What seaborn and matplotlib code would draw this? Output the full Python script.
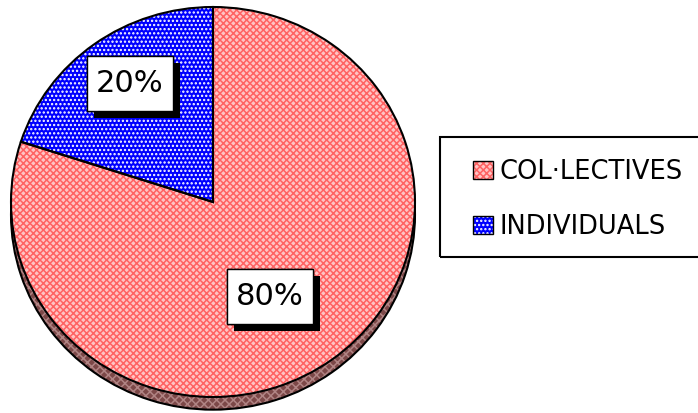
import matplotlib
matplotlib.use("Agg")
import matplotlib.pyplot as plt
import seaborn as sns
import numpy as np
from matplotlib import patheffects as pe
from matplotlib.patches import Patch, Rectangle

categories = ["COL·LECTIVES", "INDIVIDUALS"]
values = [80, 20]
face_colors = ["#ffc4c4", "#0000ff"]
hatch_colors = ["#ff6262", "#ffffff"]
side_colors = ["#7c4848", "#000080"]
hatches = ["xxxxx", "...."]
# label placement along the slice bisector (x factor, y factor)
label_dist = [(0.48, 0.60), (0.70, 0.75)]

sns.set_theme(style="white")
plt.rcParams["font.family"] = ["DejaVu Sans"]
plt.rcParams["hatch.linewidth"] = 1.1

W, H = 698, 413
fig = plt.figure(figsize=(W / 100, H / 100), dpi=100)

# pie face: centre ~ (213, 202) px from top, radii ~202 x 195 px
depth = 0.065
ylo = -1.12
ax = fig.add_axes([11 / W, (H - 7 - (1 - ylo) * 195) / H, 404 / W, (1 - ylo) * 195 / H])

start = 90 + 360 * values[1] / sum(values)

# side / depth of the 3d pie
side, _ = ax.pie(values, startangle=start, center=(0, -depth), colors=side_colors,
                 hatch=["xxxx", ""], wedgeprops=dict(linewidth=0))
for w in side:
    w.set_edgecolor("#b08484")
ax.pie(values, startangle=start, center=(0, -depth),
       wedgeprops=dict(fill=False, edgecolor="black", linewidth=1.5))

# top face
face, _ = ax.pie(values, startangle=start, colors=face_colors, hatch=hatches,
                 wedgeprops=dict(linewidth=0))
for w, hc in zip(face, hatch_colors):
    w.set_edgecolor(hc)
ax.pie(values, startangle=start, wedgeprops=dict(fill=False, edgecolor="black", linewidth=1.5))

for w, v, (fx, fy) in zip(face, values, label_dist):
    mid = np.deg2rad((w.theta1 + w.theta2) / 2)
    t = ax.text(fx * np.cos(mid), fy * np.sin(mid), f"{v}%", ha="center", va="center",
                fontsize=22, color="black",
                bbox=dict(boxstyle="square,pad=0.3", mutation_aspect=1.45,
                          facecolor="white", edgecolor="black", linewidth=1))
    t.get_bbox_patch().set_path_effects([
        pe.withSimplePatchShadow(offset=(5, -5), shadow_rgbFace="black", alpha=1.0),
        pe.Normal()])

ax.set_aspect("auto")
ax.set_xlim(-1, 1)
ax.set_ylim(ylo, 1)
ax.axis("off")

handles = [(Patch(facecolor=fc, edgecolor=hc, hatch=h, linewidth=0),
            Patch(fill=False, edgecolor="black", linewidth=1))
           for fc, hc, h in zip(face_colors, hatch_colors, hatches)]
fig.legend(handles, categories, loc="upper left", bbox_to_anchor=(473 / W, 1 - 159 / H),
           frameon=False, fontsize=18.5, labelcolor="black", borderpad=0, borderaxespad=0,
           handlelength=0.78, handleheight=0.7, handletextpad=0.27, labelspacing=1.13)
fig.add_artist(Rectangle((440 / W, 1 - 257 / H), 262 / W, 120 / H, transform=fig.transFigure,
                         fill=False, edgecolor="black", linewidth=1.5))

fig.savefig("out.png", dpi=100)
